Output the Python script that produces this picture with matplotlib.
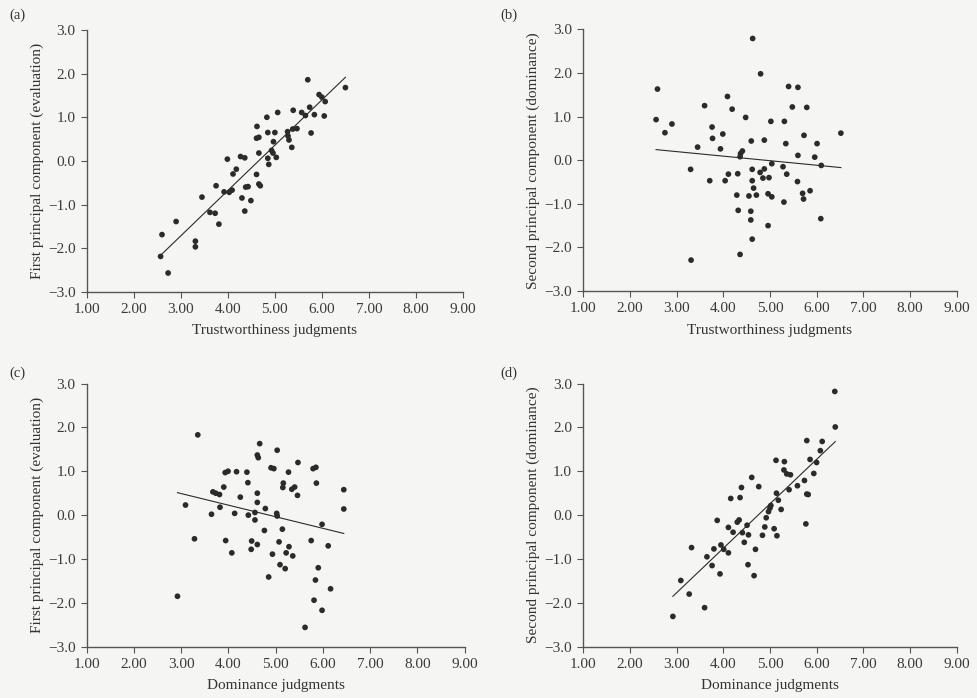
import numpy as np
import matplotlib
matplotlib.use("Agg")
import matplotlib.pyplot as plt

plt.rcParams['font.family'] = ['Liberation Serif', 'DejaVu Serif']

# (a) trustworthiness vs first principal component
a_x = [5.70, 6.50, 5.94, 6.00, 6.07, 5.74, 5.39, 5.06, 5.57, 5.65, 5.84, 6.05, 4.83, 4.62,
       5.47, 5.38, 4.85, 5.00, 5.27, 5.77, 4.61, 5.28, 5.30, 4.97, 5.36, 4.66, 4.93, 4.96,
       4.27, 4.36, 5.03, 4.85, 3.99, 4.87, 4.18, 4.11, 4.61, 4.66, 4.69, 3.75, 4.38, 4.43,
       3.92, 4.03, 4.09, 3.45, 4.30, 4.49, 4.36, 3.62, 3.73, 3.81, 2.90, 2.60, 3.31, 3.31,
       2.57, 2.73, 4.66]
a_y = [1.86, 1.68, 1.52, 1.46, 1.36, 1.23, 1.16, 1.11, 1.11, 1.04, 1.06, 1.03, 1.00, 0.79,
       0.74, 0.73, 0.65, 0.65, 0.67, 0.64, 0.52, 0.57, 0.48, 0.44, 0.31, 0.18, 0.24, 0.18,
       0.10, 0.07, 0.08, 0.06, 0.04, -0.08, -0.19, -0.30, -0.31, -0.53, -0.57, -0.57, -0.60, -0.59,
       -0.71, -0.72, -0.67, -0.83, -0.85, -0.91, -1.15, -1.18, -1.20, -1.45, -1.39, -1.69, -1.84, -1.97,
       -2.19, -2.57, 0.54]

# (b) trustworthiness vs second principal component
b_x = [4.63, 4.80, 2.59, 5.40, 5.60, 4.09, 3.60, 4.19, 5.48, 5.79, 4.48, 2.56, 2.90, 5.02,
       5.31, 3.76, 2.75, 3.99, 3.77, 5.73, 6.52, 4.60, 4.88, 3.45, 3.94, 5.34, 6.01, 4.41,
       4.37, 4.36, 5.60, 5.96, 5.04, 5.28, 6.10, 3.30, 4.62, 4.88, 4.79, 4.11, 4.31, 5.36,
       4.85, 4.98, 3.71, 4.04, 4.62, 5.59, 4.65, 4.29, 4.55, 4.71, 4.96, 5.04, 5.70, 5.86,
       5.72, 5.30, 4.32, 4.59, 4.59, 6.09, 4.96, 4.62, 4.36, 3.31]
b_y = [2.79, 1.98, 1.63, 1.69, 1.67, 1.46, 1.25, 1.17, 1.22, 1.21, 0.98, 0.93, 0.83, 0.89,
       0.89, 0.76, 0.63, 0.60, 0.50, 0.57, 0.62, 0.44, 0.46, 0.30, 0.26, 0.38, 0.38, 0.21,
       0.15, 0.08, 0.11, 0.07, -0.08, -0.15, -0.12, -0.21, -0.21, -0.20, -0.28, -0.32, -0.31, -0.32,
       -0.41, -0.40, -0.47, -0.47, -0.47, -0.49, -0.64, -0.80, -0.82, -0.80, -0.77, -0.84, -0.76, -0.70,
       -0.89, -0.96, -1.15, -1.17, -1.37, -1.34, -1.50, -1.81, -2.16, -2.29]

# (c) dominance vs first principal component
c_x = [3.35, 4.66, 5.03, 4.61, 4.63, 5.47, 4.90, 4.96, 5.79, 5.85, 3.93, 3.99, 4.17, 4.39,
       5.27, 4.41, 5.16, 5.86, 3.90, 5.15, 5.34, 5.40, 6.44, 3.67, 3.73, 3.81, 4.61, 5.46,
       4.25, 3.09, 4.61, 3.82, 4.78, 6.44, 3.64, 4.13, 4.42, 4.56, 5.02, 5.03, 4.56, 5.98,
       5.14, 4.76, 3.28, 3.94, 4.49, 5.75, 5.07, 4.61, 5.28, 6.11, 4.48, 4.07, 5.22, 4.93,
       5.36, 5.09, 5.20, 5.90, 4.85, 5.84, 6.16, 2.92, 5.81, 5.98, 5.62]
c_y = [1.83, 1.63, 1.48, 1.37, 1.31, 1.20, 1.08, 1.06, 1.06, 1.09, 0.97, 1.00, 0.99, 0.98,
       0.98, 0.74, 0.73, 0.73, 0.64, 0.63, 0.59, 0.64, 0.58, 0.53, 0.50, 0.47, 0.50, 0.45,
       0.41, 0.23, 0.29, 0.18, 0.15, 0.14, 0.02, 0.04, 0.00, 0.06, 0.04, -0.02, -0.11, -0.21,
       -0.32, -0.35, -0.54, -0.58, -0.59, -0.58, -0.61, -0.67, -0.72, -0.70, -0.78, -0.86, -0.86, -0.89,
       -0.93, -1.13, -1.22, -1.20, -1.41, -1.48, -1.68, -1.85, -1.94, -2.17, -2.56]

# (d) dominance vs second principal component
d_x = [6.39, 6.40, 5.79, 6.12, 6.08, 5.13, 5.31, 5.86, 6.00, 5.30, 5.36, 5.44, 5.94, 4.61,
       4.39, 4.76, 5.74, 5.59, 5.41, 4.16, 4.36, 5.14, 5.79, 5.82, 5.18, 5.02, 5.24, 5.00,
       4.97, 4.92, 3.87, 4.34, 4.30, 5.77, 4.11, 4.51, 4.89, 5.09, 4.21, 4.41, 4.54, 4.84,
       5.15, 4.45, 3.32, 3.95, 3.80, 4.01, 4.11, 4.69, 3.65, 3.76, 4.53, 3.93, 4.66, 3.09,
       3.27, 3.60, 2.92]
d_y = [2.82, 2.01, 1.70, 1.68, 1.47, 1.25, 1.22, 1.27, 1.20, 1.03, 0.94, 0.92, 0.95, 0.86,
       0.63, 0.65, 0.79, 0.67, 0.58, 0.38, 0.40, 0.50, 0.48, 0.47, 0.34, 0.22, 0.13, 0.16,
       0.08, -0.06, -0.12, -0.11, -0.16, -0.20, -0.28, -0.23, -0.27, -0.31, -0.39, -0.40, -0.45, -0.46,
       -0.47, -0.62, -0.74, -0.68, -0.77, -0.78, -0.86, -0.78, -0.95, -1.15, -1.13, -1.34, -1.38, -1.49,
       -1.80, -2.11, -2.31]

x_ticks = [1, 2, 3, 4, 5, 6, 7, 8, 9]
y_ticks = [-3, -2, -1, 0, 1, 2, 3]

panels = [
    ("(a)", a_x, a_y, "Trustworthiness judgments", "First principal component (evaluation)"),
    ("(b)", b_x, b_y, "Trustworthiness judgments", "Second principal component (dominance)"),
    ("(c)", c_x, c_y, "Dominance judgments", "First principal component (evaluation)"),
    ("(d)", d_x, d_y, "Dominance judgments", "Second principal component (dominance)"),
]

# axes rectangles [left, bottom, width, height] in figure fractions
rects = [
    [0.0887, 0.582, 0.3847, 0.375],
    [0.5964, 0.583, 0.3817, 0.375],
    [0.0887, 0.0735, 0.3865, 0.377],
    [0.5964, 0.0735, 0.3817, 0.377],
]
tag_pos = [(0.010, 0.988), (0.512, 0.988), (0.010, 0.475), (0.512, 0.475)]

bg = '#f5f5f3'
ink = '#2b2b2b'

fig = plt.figure(figsize=(9.78, 6.98), dpi=100, facecolor=bg)

for (tag, xs, ys, xlab, ylab), rect, tp in zip(panels, rects, tag_pos):
    ax = fig.add_axes(rect)
    ax.set_facecolor(bg)
    ax.scatter(xs, ys, s=17, color=ink, edgecolors='none', zorder=3)
    k, b = np.polyfit(xs, ys, 1)
    lx = np.array([min(xs), max(xs)])
    ax.plot(lx, k * lx + b, color=ink, lw=0.8, zorder=2)
    ax.set_xlim(1, 9)
    ax.set_ylim(-3, 3)
    ax.set_xticks(x_ticks)
    ax.set_xticklabels([f"{v:.2f}" for v in x_ticks])
    ax.set_yticks(y_ticks)
    ax.set_yticklabels([f"{v:.1f}".replace('-', '\u2212') for v in y_ticks])
    for s in ('top', 'right'):
        ax.spines[s].set_visible(False)
    for s in ('left', 'bottom'):
        ax.spines[s].set_color('#555555')
        ax.spines[s].set_linewidth(1.0)
    ax.tick_params(direction='out', length=4, width=0.8, colors='#555555',
                   labelcolor='#3a3a3a', labelsize=11, pad=4)
    ax.set_xlabel(xlab, fontsize=11, color='#333333', labelpad=6)
    ax.set_ylabel(ylab, fontsize=11, color='#333333', labelpad=3)
    fig.text(tp[0], tp[1], tag, fontsize=10.5, color='#333333', va='top', ha='left')

fig.savefig("out.png", dpi=100, facecolor=bg)
